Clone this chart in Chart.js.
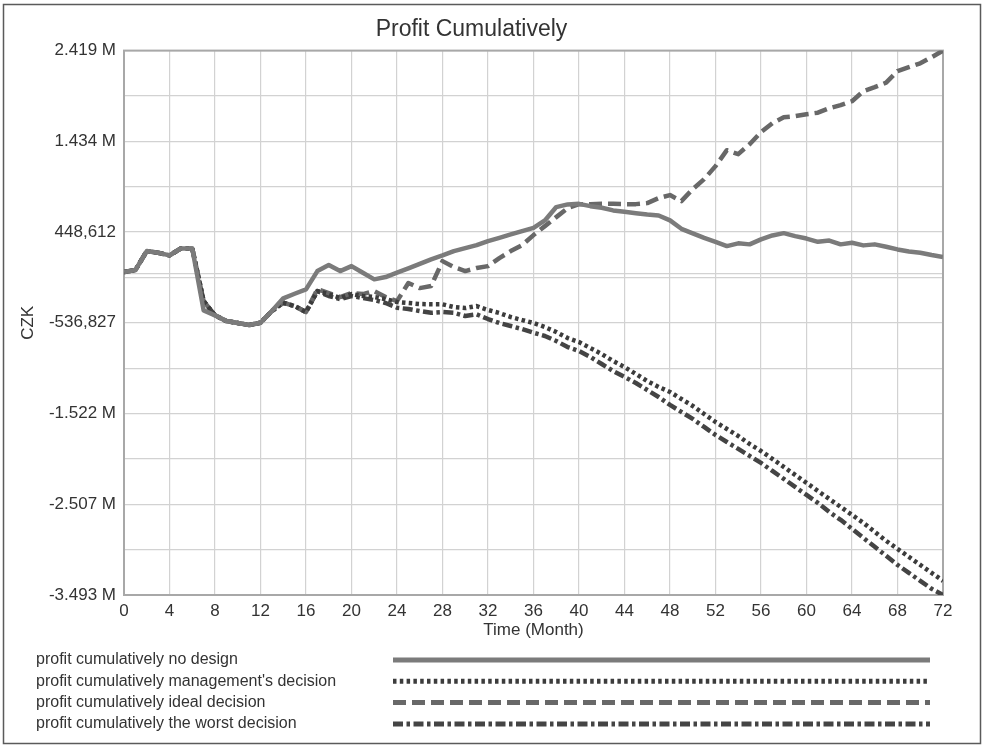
<!DOCTYPE html>
<html>
<head>
<meta charset="utf-8">
<title>Profit Cumulatively</title>
<script src="https://cdn.jsdelivr.net/npm/chart.js@4.4.1/dist/chart.umd.min.js"></script>
<style>
  html, body { margin: 0; padding: 0; background: #fff; }
  #wrap { width: 986px; height: 748px; }
</style>
</head>
<body>
<div id="wrap"><canvas id="chart" width="986" height="748"></canvas></div>
<script>
// months on the x axis
const months = [0,1,2,3,4,5,6,7,8,9,10,11,12,13,14,15,16,17,18,19,20,21,22,23,24,
  25,26,27,28,29,30,31,32,33,34,35,36,37,38,39,40,41,42,43,44,45,46,47,48,
  49,50,51,52,53,54,55,56,57,58,59,60,61,62,63,64,65,66,67,68,69,70,71,72];

// profit values, thousand CZK
const noDesign = [14,36,242,224,195,271,271,-402,-456,-518,-539,-561,-536,-409,-271,-221,-174,25,90,25,
  79,7,-65,-40,7,54,104,152,195,242,275,307,351,386,423,459,495,575,720,749,
  755,730,712,684,669,654,640,629,575,484,434,386,343,296,326,315,369,412,437,405,
  378,343,356,315,332,304,315,289,260,237,224,199,177];

const managementDecision = [14,36,242,224,195,271,271,-301,-456,-518,-539,-561,-536,-409,-319,-355,-420,-192,-225,-268,
  -225,-246,-257,-279,-311,-322,-333,-336,-336,-366,-377,-355,-398,-431,-474,-507,-539,-583,-637,-702,
  -746,-811,-876,-952,-1017,-1093,-1169,-1234,-1288,-1364,-1440,-1527,-1614,-1690,-1766,-1853,-1929,-2015,-2102,-2189,
  -2276,-2363,-2450,-2536,-2623,-2710,-2808,-2905,-2992,-3079,-3166,-3253,-3339];

const idealDecision = [14,36,242,224,195,271,271,-301,-456,-518,-539,-561,-536,-409,-319,-355,-420,-170,-214,-257,
  -214,-225,-192,-257,-301,-105,-160,-138,133,68,25,58,79,166,242,307,416,513,611,709,
  752,752,755,755,752,752,763,817,850,785,915,1023,1165,1338,1295,1403,1534,1631,1696,1707,
  1729,1745,1794,1827,1870,1978,2022,2071,2196,2239,2282,2348,2419];

const worstDecision = [14,36,242,224,195,271,271,-301,-456,-518,-539,-561,-536,-409,-319,-355,-420,-192,-246,-279,
  -246,-268,-290,-322,-373,-387,-409,-428,-420,-428,-463,-445,-496,-539,-572,-605,-645,-680,-735,-800,
  -843,-908,-984,-1060,-1125,-1191,-1267,-1343,-1429,-1505,-1581,-1668,-1755,-1831,-1907,-1983,-2059,-2146,-2232,-2319,
  -2406,-2493,-2591,-2677,-2775,-2873,-2970,-3068,-3166,-3253,-3339,-3426,-3493];

const seriesNames = [
  'profit cumulatively no design',
  "profit cumulatively management's decision",
  'profit cumulatively ideal decision',
  'profit cumulatively the worst decision'
];

// y axis: 6 labelled steps with a grid line between each, thousand CZK
const yTickValues = [2419.49, 1926.77, 1434.051, 941.33, 448.612, -44.11, -536.827,
  -1029.55, -1522.266, -2014.99, -2507.705, -3000.42, -3493.144];
const yTickLabels = ['2.419 M', '', '1.434 M', '', '448,612', '', '-536,827',
  '', '-1.522 M', '', '-2.507 M', '', '-3.493 M'];

const FONT = "'Liberation Sans', Arial, sans-serif";
const pts = arr => arr.map((v, i) => ({ x: months[i], y: v }));

const styles = [
  { color: '#7b7b7b', dash: [] },
  { color: '#3c3c3c', dash: [3.5, 3.3] },
  { color: '#686868', dash: [13, 6] },
  { color: '#444444', dash: [10, 3.5, 3.5, 3.5] }
];
const series = [noDesign, managementDecision, idealDecision, worstDecision];

const frameAndLegend = {
  id: 'frameAndLegend',
  beforeDraw(chart) {
    const ctx = chart.ctx;
    ctx.save();
    ctx.fillStyle = '#fff';
    ctx.fillRect(0, 0, chart.width, chart.height);
    ctx.strokeStyle = '#5a5a5a';
    ctx.lineWidth = 1.5;
    ctx.strokeRect(3.5, 4.5, 977, 739);
    ctx.restore();
  },
  beforeDatasetsDraw(chart) {
    const { ctx, chartArea: a } = chart;
    ctx.save();
    ctx.strokeStyle = '#a8a8a8';
    ctx.lineWidth = 2;
    ctx.strokeRect(a.left, a.top, a.right - a.left, a.bottom - a.top);
    ctx.restore();
  },
  afterDraw(chart) {
    const ctx = chart.ctx;
    ctx.save();
    ctx.font = '16px ' + FONT;
    ctx.textBaseline = 'middle';
    chart.data.datasets.forEach((ds, i) => {
      const y = 660 + i * 21.3;
      ctx.fillStyle = '#333';
      ctx.fillText(ds.label, 36, y);
      ctx.beginPath();
      ctx.setLineDash(ds.borderDash);
      ctx.lineCap = 'butt';
      ctx.strokeStyle = ds.borderColor;
      ctx.lineWidth = 5;
      ctx.moveTo(393, y);
      ctx.lineTo(930, y);
      ctx.stroke();
    });
    ctx.restore();
  }
};

new Chart(document.getElementById('chart'), {
  type: 'line',
  data: {
    datasets: series.map((s, i) => ({
      label: seriesNames[i],
      data: pts(s),
      borderColor: styles[i].color,
      borderDash: styles[i].dash,
      borderWidth: 4.5,
      borderCapStyle: 'butt',
      borderJoinStyle: 'round',
      pointRadius: 0,
      tension: 0,
      fill: false
    }))
  },
  options: {
    responsive: false,
    animation: false,
    devicePixelRatio: 1,
    layout: { padding: { left: 0, right: 43, top: 0, bottom: 103 } },
    plugins: {
      legend: { display: false },
      tooltip: { enabled: false },
      title: {
        display: true,
        text: 'Profit Cumulatively',
        color: '#333',
        font: { family: FONT, size: 23, weight: 'normal' },
        padding: { top: 16, bottom: 7 }
      }
    },
    scales: {
      x: {
        type: 'linear',
        min: 0,
        max: 72,
        afterFit: s => { s.height = 50; },
        ticks: { stepSize: 4, padding: 6, color: '#333', font: { family: FONT, size: 17 } },
        grid: { color: '#d2d2d2', lineWidth: 1.2, drawTicks: false },
        border: { display: false },
        title: { display: true, text: 'Time (Month)', color: '#333', font: { family: FONT, size: 17 }, padding: { top: 0, bottom: 4 } }
      },
      y: {
        min: yTickValues[yTickValues.length - 1],
        max: yTickValues[0],
        afterFit: s => { s.width = 124; },
        afterBuildTicks: s => {
          s.ticks = yTickValues.concat([0]).map(v => ({ value: v }));
        },
        ticks: {
          autoSkip: false,
          padding: 8,
          color: '#333',
          font: { family: FONT, size: 17 },
          callback: v => {
            const i = yTickValues.indexOf(v);
            return i < 0 ? '' : yTickLabels[i];
          }
        },
        grid: { color: '#d2d2d2', lineWidth: 1.2, drawTicks: false },
        border: { display: false },
        title: { display: true, text: 'CZK', color: '#333', font: { family: FONT, size: 17 }, padding: { top: 18, bottom: 0 } }
      }
    }
  },
  plugins: [frameAndLegend]
});
</script>
</body>
</html>
